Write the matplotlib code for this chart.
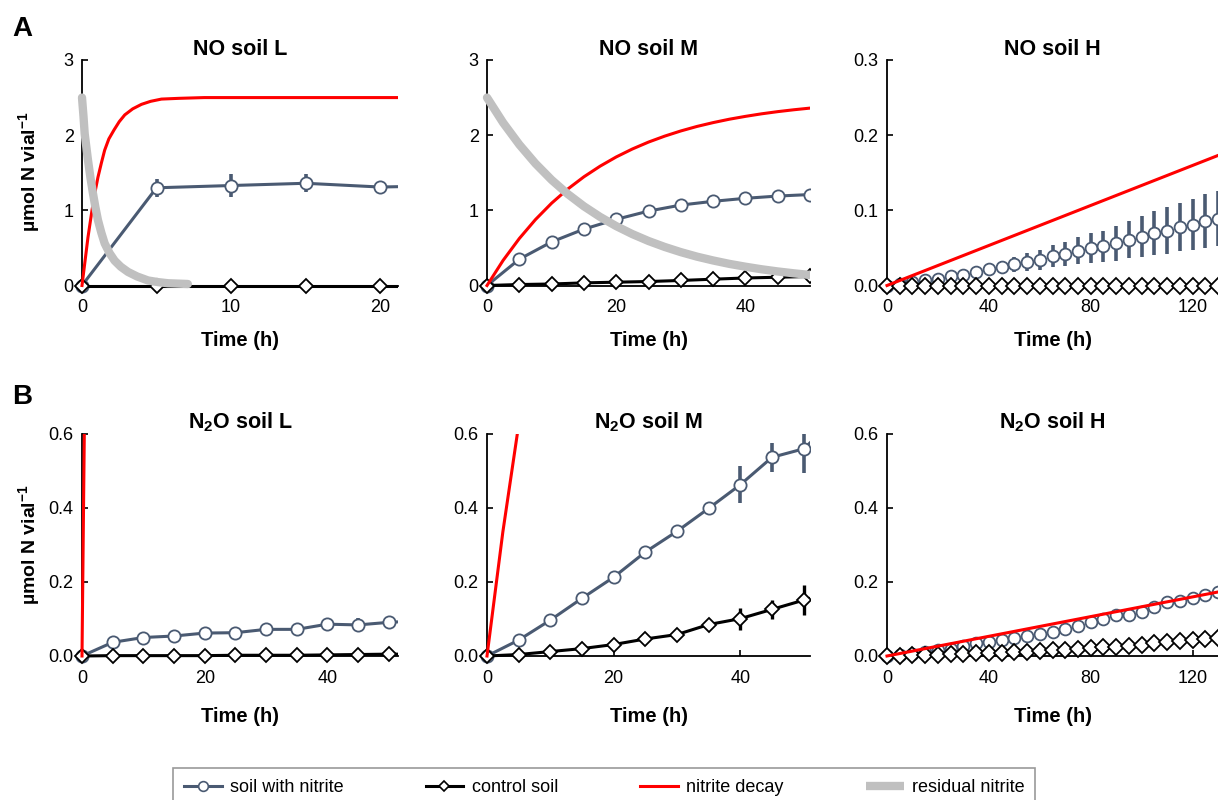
import matplotlib
matplotlib.use("Agg")
import matplotlib.pyplot as plt
from matplotlib.lines import Line2D
from matplotlib.patches import Rectangle

plt.rcParams['font.family'] = ['Liberation Sans', 'DejaVu Sans']
plt.rcParams['mathtext.fontset'] = 'custom'
plt.rcParams['mathtext.rm'] = 'Liberation Sans'
plt.rcParams['mathtext.bf'] = 'Liberation Sans:bold'

SLATE = '#4a5a72'
RED = '#ff0000'
GRAY = '#c0c0c0'

# ---- soil L (sampling every 5 h) ----
t_L = [0, 5, 10, 15, 20, 25]
no_L = [0, 1.30, 1.33, 1.36, 1.31, 1.33]
no_L_err = [0, 0.12, 0.15, 0.12, 0.06, 0.06]
no_L_ctrl = [0, 0, 0, 0, 0, 0]

t_L2 = [0, 5, 10, 15, 20, 25, 30, 35, 40, 45, 50, 55]
n2o_L = [0, 0.037, 0.050, 0.054, 0.062, 0.063, 0.072, 0.072, 0.086, 0.084, 0.091, 0.095]
n2o_L_err = [0, 0.005, 0.012, 0.008, 0.012, 0.006, 0.018, 0.015, 0.018, 0.020, 0.018, 0.018]
n2o_L_ctrl = [0, 0.001, 0.001, 0.001, 0.001, 0.002, 0.002, 0.002, 0.003, 0.004, 0.005, 0.005]

decay_L_t = [0, 0.2, 0.4, 0.67, 0.87, 1.07, 1.3, 1.52, 1.8, 2.15, 2.5, 2.87, 3.4,
             3.99, 4.6, 5.33, 6.5, 8.2, 12, 60]
decay_L = [0, 0.32, 0.64, 1.00, 1.24, 1.44, 1.63, 1.80, 1.95, 2.07, 2.18, 2.27, 2.35,
           2.41, 2.45, 2.48, 2.49, 2.50, 2.50, 2.50]
resid_L_t = [0, 0.1, 0.18, 0.4, 0.57, 0.74, 0.9, 1.07, 1.3, 1.52, 1.85, 2.19, 2.6,
             3.09, 3.7, 4.43, 5.1, 5.77, 7.1]
resid_L = [2.5, 2.25, 2.02, 1.67, 1.43, 1.22, 1.04, 0.87, 0.70, 0.56, 0.43, 0.33, 0.25,
           0.18, 0.12, 0.067, 0.045, 0.03, 0.02]

# ---- soil M ----
t_M = [0, 5, 10, 15, 20, 25, 30, 35, 40, 45, 50, 55]
no_M = [0, 0.35, 0.58, 0.75, 0.88, 0.99, 1.07, 1.12, 1.16, 1.19, 1.21, 1.23]
no_M_err = [0, 0.01, 0.01, 0.01, 0.01, 0.01, 0.01, 0.01, 0.01, 0.01, 0.01, 0.01]
no_M_ctrl = [0, 0.013, 0.02, 0.035, 0.044, 0.053, 0.067, 0.084, 0.10, 0.11, 0.12, 0.13]

n2o_M = [0, 0.043, 0.097, 0.156, 0.213, 0.281, 0.337, 0.399, 0.463, 0.537, 0.560, 0.64]
n2o_M_err = [0, 0.004, 0.004, 0.005, 0.005, 0.005, 0.015, 0.018, 0.05, 0.04, 0.065, 0.06]
n2o_M_ctrl = [0, 0.004, 0.012, 0.020, 0.031, 0.046, 0.058, 0.085, 0.101, 0.126, 0.151, 0.175]
n2o_M_ctrl_err = [0, 0.002, 0.002, 0.003, 0.008, 0.004, 0.005, 0.010, 0.030, 0.025, 0.040, 0.040]

decay_M_t = [0, 2.5, 5, 7.5, 10, 12.5, 15, 17.5, 20, 22.5, 25, 27.5, 30, 32.5,
             35, 37.5, 40, 42.5, 45, 47.5, 50]
decay_M = [0, 0.335, 0.625, 0.877, 1.095, 1.283, 1.446, 1.587, 1.710, 1.816, 1.908,
           1.987, 2.056, 2.116, 2.167, 2.212, 2.250, 2.284, 2.313, 2.338, 2.360]
resid_M = [2.5, 2.165, 1.875, 1.623, 1.405, 1.217, 1.054, 0.913, 0.790, 0.684, 0.592,
           0.513, 0.444, 0.384, 0.333, 0.288, 0.250, 0.216, 0.187, 0.162, 0.140]

# ---- soil H ----
t_H = [0, 5, 10, 15, 20, 25, 30, 35, 40, 45, 50, 55, 60, 65, 70, 75, 80, 85, 90,
       95, 100, 105, 110, 115, 120, 125, 130]
no_H = [0, 0.002, 0.004, 0.007, 0.008, 0.012, 0.014, 0.018, 0.022, 0.024, 0.028,
        0.031, 0.034, 0.039, 0.042, 0.046, 0.050, 0.052, 0.056, 0.061, 0.065, 0.070,
        0.073, 0.078, 0.081, 0.086, 0.089]
no_H_err = [0, 0, 0, 0.001, 0.002, 0.003, 0.004, 0.005, 0.006, 0.008, 0.010, 0.012,
            0.013, 0.015, 0.016, 0.018, 0.020, 0.021, 0.023, 0.025, 0.027, 0.029,
            0.031, 0.032, 0.034, 0.036, 0.037]
no_H_ctrl = [0, 0, 0, 0, 0, 0, 0, 0, 0, 0, 0, 0, 0, 0, 0, 0, 0, 0, 0, 0, 0, 0, 0,
             0, 0, 0, 0]

n2o_H = [0, 0.003, 0.006, 0.010, 0.015, 0.020, 0.026, 0.034, 0.039, 0.043, 0.048,
         0.055, 0.060, 0.064, 0.072, 0.082, 0.091, 0.100, 0.112, 0.110, 0.118, 0.133,
         0.147, 0.148, 0.158, 0.166, 0.173]
n2o_H_err = [0, 0, 0.001, 0.001, 0.001, 0.002, 0.002, 0.002, 0.003, 0.003, 0.003,
             0.004, 0.004, 0.004, 0.005, 0.005, 0.005, 0.006, 0.006, 0.006, 0.007,
             0.007, 0.008, 0.008, 0.009, 0.009, 0.010]
n2o_H_ctrl = [0, 0.001, 0.002, 0.003, 0.004, 0.005, 0.006, 0.007, 0.008, 0.009,
              0.010, 0.012, 0.013, 0.015, 0.017, 0.019, 0.021, 0.023, 0.025, 0.028,
              0.031, 0.034, 0.037, 0.040, 0.043, 0.047, 0.050]
n2o_H_ctrl_err = [0, 0, 0, 0, 0, 0, 0, 0, 0, 0, 0, 0, 0, 0, 0, 0, 0, 0, 0, 0, 0,
                  0, 0, 0, 0, 0.003, 0.006]

decay_H_t = [0, 65, 130, 140]
decay_H = [0, 0.0865, 0.173, 0.186]


def open_clip(ax, artist):
    # clip on the right/top edge only, so markers at t=0 / y=0 stay whole
    artist.set_clip_path(Rectangle((-0.1, -0.1), 1.1, 1.1, transform=ax.transAxes))


def draw_panel(ax, t, soil, soil_err, ctrl, ctrl_err, dec_t, dec,
               res_t=None, res=None, dense=False):
    # dense = H panels: markers only, slightly bigger diamonds
    ls = 'none' if dense else '-'
    ms_o = 8.5 if dense else 8.8
    ms_d = 8.3 if dense else 7.2
    eb = ax.errorbar(t, soil, yerr=soil_err, fmt='none', ecolor=SLATE,
                     elinewidth=2.6, capsize=0, zorder=3)
    for c in eb[2]:
        open_clip(ax, c)
    ln, = ax.plot(t, soil, ls=ls, color=SLATE, lw=2.2, marker='o', ms=ms_o,
                  mfc='white', mec=SLATE, mew=1.3, zorder=3)
    open_clip(ax, ln)
    if ctrl_err is not None:
        eb = ax.errorbar(t, ctrl, yerr=ctrl_err, fmt='none', ecolor='black',
                         elinewidth=2.4, capsize=0, zorder=4)
        for c in eb[2]:
            open_clip(ax, c)
    ln, = ax.plot(t, ctrl, ls=ls, color='black', lw=2.2, marker='D', ms=ms_d,
                  mfc='white', mec='black', mew=1.3, zorder=4)
    open_clip(ax, ln)
    ln, = ax.plot(dec_t, dec, color=RED, lw=2.2, zorder=5)
    open_clip(ax, ln)
    if res is not None:
        ln, = ax.plot(res_t, res, color=GRAY, lw=6, solid_capstyle='round',
                      solid_joinstyle='round', zorder=6)
        open_clip(ax, ln)


def style(ax, xlim, xticks, ylim, yticks, fmt, title, xlab_y):
    ax.set_xlim(*xlim)
    ax.set_ylim(*ylim)
    ax.set_xticks(xticks)
    ax.set_yticks(yticks)
    ax.set_yticklabels([fmt.format(v) for v in yticks])
    for s in ('top', 'right'):
        ax.spines[s].set_visible(False)
    for s in ('left', 'bottom'):
        ax.spines[s].set_linewidth(1.3)
        ax.spines[s].set_color('black')
    ax.tick_params(axis='both', direction='in', length=4, width=1.2,
                   labelsize=13, colors='black')
    ax.tick_params(axis='x', pad=10)
    ax.tick_params(axis='y', pad=6)
    ax.set_title(title, fontsize=15.5, fontweight='bold', pad=1)
    ax.set_xlabel('Time (h)', fontsize=14.5, fontweight='bold', va='center')
    ax.xaxis.set_label_coords(0.5, xlab_y)


fig = plt.figure(figsize=(12.18, 8.0), dpi=100)

W, H = 1218, 800
cols = [(82, 398), (487, 810), (887, 1218)]
rowA = (60, 285.5)
rowB = (434, 656)


def make_ax(col, row):
    x0, x1 = col
    y0, y1 = row
    return fig.add_axes([x0 / W, 1 - y1 / H, (x1 - x0) / W, (y1 - y0) / H])


a1 = make_ax(cols[0], rowA)
a2 = make_ax(cols[1], rowA)
a3 = make_ax(cols[2], rowA)
b1 = make_ax(cols[0], rowB)
b2 = make_ax(cols[1], rowB)
b3 = make_ax(cols[2], rowB)

draw_panel(a1, t_L, no_L, no_L_err, no_L_ctrl, None, decay_L_t, decay_L,
           resid_L_t, resid_L)
draw_panel(a2, t_M, no_M, no_M_err, no_M_ctrl, None, decay_M_t, decay_M,
           decay_M_t, resid_M)
draw_panel(a3, t_H, no_H, no_H_err, no_H_ctrl, None, decay_H_t, decay_H,
           dense=True)
draw_panel(b1, t_L2, n2o_L, n2o_L_err, n2o_L_ctrl, None, decay_L_t, decay_L)
draw_panel(b2, t_M, n2o_M, n2o_M_err, n2o_M_ctrl, n2o_M_ctrl_err, decay_M_t, decay_M)
draw_panel(b3, t_H, n2o_H, n2o_H_err, n2o_H_ctrl, n2o_H_ctrl_err, decay_H_t, decay_H,
           dense=True)

ya = -(341 - 285.5) / 225.5
yb = -(717 - 656) / 222
style(a1, (0, 21.2), [0, 10, 20], (0, 3), [0, 1, 2, 3], '{:.0f}', 'NO soil L', ya)
style(a2, (0, 50), [0, 20, 40], (0, 3), [0, 1, 2, 3], '{:.0f}', 'NO soil M', ya)
style(a3, (0, 130), [0, 40, 80, 120], (0, 0.3), [0, 0.1, 0.2, 0.3], '{:.1f}',
      'NO soil H', ya)
style(b1, (0, 51.5), [0, 20, 40], (0, 0.6), [0, 0.2, 0.4, 0.6], '{:.1f}',
      r'N$_{\mathbf{2}}$O soil L', yb)
style(b2, (0, 51), [0, 20, 40], (0, 0.6), [0, 0.2, 0.4, 0.6], '{:.1f}',
      r'N$_{\mathbf{2}}$O soil M', yb)
style(b3, (0, 130), [0, 40, 80, 120], (0, 0.6), [0, 0.2, 0.4, 0.6], '{:.1f}',
      r'N$_{\mathbf{2}}$O soil H', yb)

ylab = r'µmol N vial$^{\mathbf{-1}}$'
fig.text(30 / W, 1 - 172 / H, ylab, rotation=90, ha='center', va='center',
         fontsize=14, fontweight='bold')
fig.text(30 / W, 1 - 545 / H, ylab, rotation=90, ha='center', va='center',
         fontsize=14, fontweight='bold')

fig.text(22 / W, 1 - 29 / H, 'A', ha='center', va='center', fontsize=20,
         fontweight='bold')
fig.text(22 / W, 1 - 397 / H, 'B', ha='center', va='center', fontsize=20,
         fontweight='bold')

handles = [
    Line2D([], [], color=SLATE, lw=2.2, marker='o', ms=7, mfc='white', mec=SLATE, mew=1.2),
    Line2D([], [], color='black', lw=2.2, marker='D', ms=5.5, mfc='white', mec='black', mew=1.2),
    Line2D([], [], color=RED, lw=2.2),
    Line2D([], [], color=GRAY, lw=6, solid_capstyle='butt'),
]
labels = ['soil with nitrite', 'control soil', 'nitrite decay', 'residual nitrite']
leg = fig.legend(handles, labels, loc='upper center', bbox_to_anchor=(604 / W, 1 - 759 / H),
                 ncol=4, frameon=True, fancybox=False, edgecolor='#808080',
                 fontsize=13, columnspacing=4.55, handlelength=2.1,
                 handletextpad=0.45, borderpad=0.6)
leg.get_frame().set_linewidth(1.2)

fig.savefig('out.png', dpi=100)
